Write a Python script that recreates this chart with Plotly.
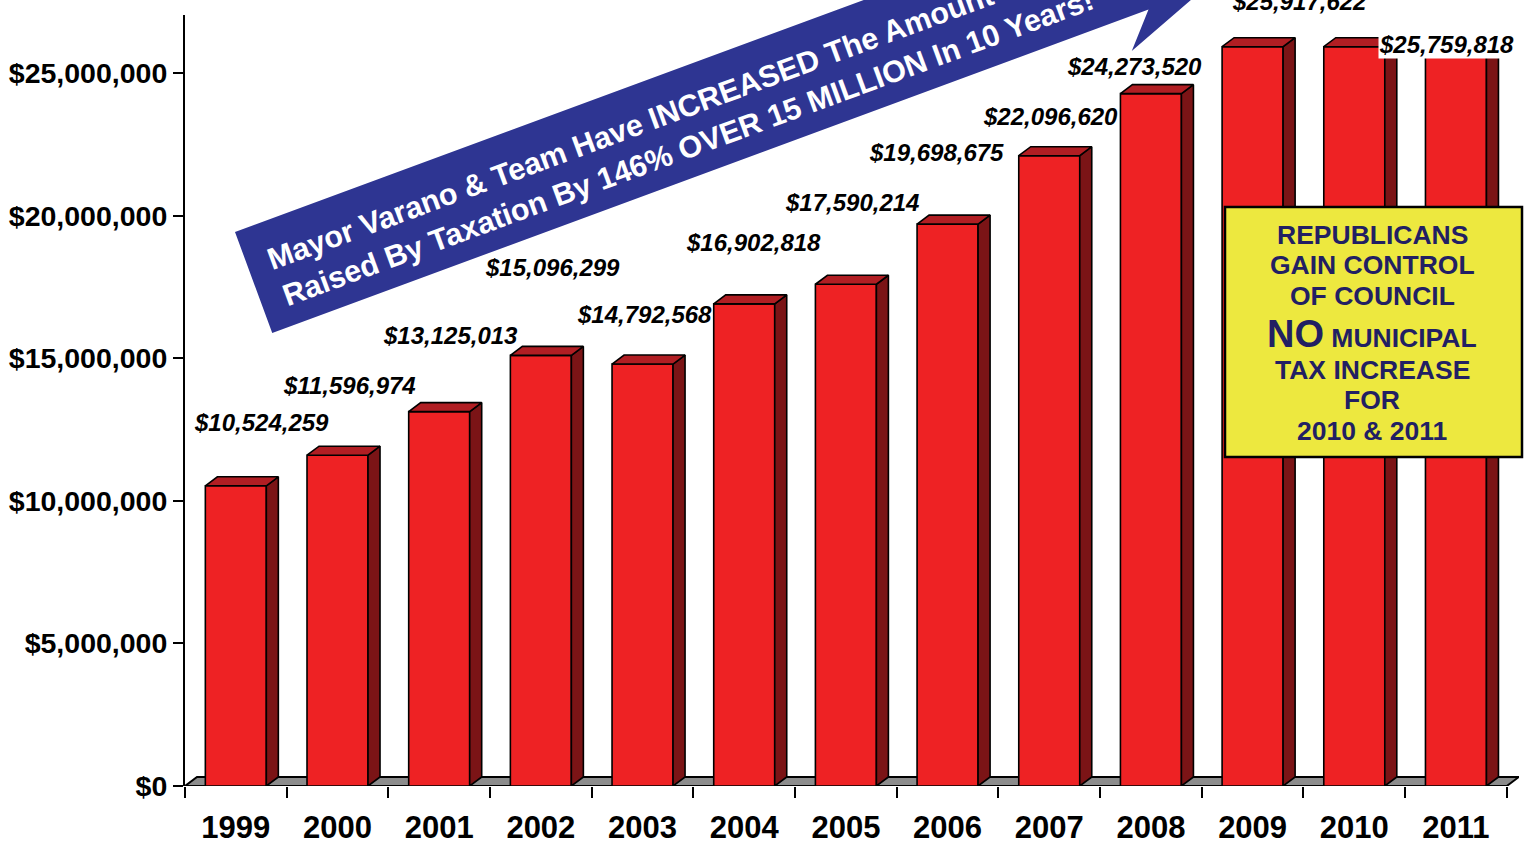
import math
import plotly.graph_objects as go

# ---------------- data ----------------
years = ["1999", "2000", "2001", "2002", "2003", "2004", "2005",
         "2006", "2007", "2008", "2009", "2010", "2011"]
tax_raised = [10524259, 11596974, 13125013, 15096299, 14792568, 16902818,
              17590214, 19698675, 22096620, 24273520, 25917622, 25917622,
              25759818]
y_tick_values = [0, 5000000, 10000000, 15000000, 20000000, 25000000]
y_tick_labels = ["$0", "$5,000,000", "$10,000,000", "$15,000,000",
                 "$20,000,000", "$25,000,000"]
banner_lines = ["Mayor Varano & Team Have INCREASED The Amount Of Money",
                "Raised By Taxation By 146% OVER 15 MILLION In 10 Years!"]
box_lines = ["REPUBLICANS", "GAIN CONTROL", "OF COUNCIL",
             "<span style='font-size:38px'>NO</span> MUNICIPAL",
             "TAX INCREASE", "FOR", "2010 & 2011"]

# ---------------- layout geometry / style ----------------
W, H = 1530, 844
ML, MR, MT, MB = 185, 11, 15, 58
PW, PH = W - ML - MR, H - MT - MB
X_RANGE = [-0.5, 12.62]
PX_PER_X = PW / (X_RANGE[1] - X_RANGE[0])
Y_MAX = 27.03e6
PX_PER_Y = PH / Y_MAX

FONT = "Liberation Sans, Arial, sans-serif"
RED, SIDE, TOP = "#ee2224", "#7b1416", "#b11e23"
FLOOR = "#8c8c8c"
NAVY = "#2e3592"
BOX_TXT = "#221f63"
BAR_W = 0.6
DX = 12 / PX_PER_X          # depth in x-data units
DY = 9 / PX_PER_Y           # depth in y-data units

# label nudges in pixels (x, y); None = label hidden in the original
label_nudge_px = [(26, 63), (12, 70), (11, 76), (12, 88), (2, 50), (9, 61),
                  (6, 82), (-11, 72), (1, 39), (-16, 27), (47, 45), None,
                  (-9, 7)]


def paper(px, py):
    return (px - ML) / PW, (H - MB - py) / PH


fig = go.Figure()

# front faces
xs = list(range(len(years)))
fig.add_trace(go.Bar(x=xs, y=tax_raised, width=BAR_W,
                     marker=dict(color=RED, line=dict(color="black", width=1.6)),
                     hoverinfo="skip"))

# side and top faces
sx, sy, tx, ty = [], [], [], []
for i, v in zip(xs, tax_raised):
    a, b = i - BAR_W / 2, i + BAR_W / 2
    sx += [b, b + DX, b + DX, b, b, None]
    sy += [0, DY, v + DY, v, 0, None]
    tx += [a, b, b + DX, a + DX, a, None]
    ty += [v, v, v + DY, v + DY, v, None]
fig.add_trace(go.Scatter(x=sx, y=sy, mode="lines", fill="toself",
                         fillcolor=SIDE, line=dict(color="black", width=1.6),
                         hoverinfo="skip"))
fig.add_trace(go.Scatter(x=tx, y=ty, mode="lines", fill="toself",
                         fillcolor=TOP, line=dict(color="black", width=1.6),
                         hoverinfo="skip"))

shapes = []
# floor
shapes.append(dict(type="path", xref="x", yref="y", layer="below",
                   path=f"M -0.5,0 L 12.5,0 L {12.5 + DX},{DY} L {-0.5 + DX},{DY} Z",
                   fillcolor=FLOOR, line=dict(color="black", width=2)))

# banner arrow
theta = math.atan(0.369)
d = (math.cos(theta), -math.sin(theta))
nv = (math.sin(theta), math.cos(theta))
A = (235, 232)


def tn(t, n):
    return A[0] + t * d[0] + n * nv[0], A[1] + t * d[1] + n * nv[1]


arrow_tn = [(0, 0), (934, 0), (904, -33), (1136, 53.8), (904, 140.6),
            (934, 107.6), (0, 107.6)]
pts = [paper(*tn(t, n)) for t, n in arrow_tn]
path = "M " + " L ".join(f"{x:.5f},{y:.5f}" for x, y in pts) + " Z"
shapes.append(dict(type="path", xref="paper", yref="paper", path=path,
                   fillcolor=NAVY, line=dict(width=0), layer="above"))

# yellow box
bx0, by0 = paper(1225, 207)
bx1, by1 = paper(1522, 457)
shapes.append(dict(type="rect", xref="paper", yref="paper",
                   x0=bx0, x1=bx1, y0=by1, y1=by0,
                   fillcolor="#ede83f", line=dict(color="black", width=2.5),
                   layer="above"))

annotations = []
# value labels
for i, v in enumerate(tax_raised):
    nudge = label_nudge_px[i]
    if nudge is None:
        continue
    ann = dict(x=i, y=v, xref="x", yref="y", showarrow=False,
               text=f"<b><i>${v:,}</i></b>", xshift=nudge[0], yshift=nudge[1],
               font=dict(family=FONT, size=24, color="black"),
               xanchor="center", yanchor="middle")
    if i == len(tax_raised) - 1:
        ann.update(bgcolor="white", borderpad=0)
    annotations.append(ann)

# banner text
for line, (t, n) in zip(banner_lines, [(481, 38.0), (454, 77.0)]):
    px, py = tn(t, n)
    x, y = paper(px, py)
    annotations.append(dict(x=x, y=y, xref="paper", yref="paper",
                            showarrow=False, text=f"<b>{line}</b>",
                            textangle=-math.degrees(theta),
                            font=dict(family=FONT, size=30.5, color="white"),
                            xanchor="center", yanchor="middle"))

# box text
for line, py in zip(box_lines, [235, 265, 296, 334, 370, 400, 431]):
    x, y = paper(1372, py)
    annotations.append(dict(x=x, y=y, xref="paper", yref="paper",
                            showarrow=False, text=f"<b>{line}</b>",
                            font=dict(family=FONT, size=26.5, color=BOX_TXT),
                            xanchor="center", yanchor="middle"))

fig.update_layout(
    width=W, height=H, autosize=False,
    margin=dict(l=ML, r=MR, t=MT, b=MB, pad=0, autoexpand=False),
    paper_bgcolor="white", plot_bgcolor="white",
    showlegend=False, shapes=shapes, annotations=annotations,
    xaxis=dict(range=X_RANGE, tickmode="array", tickvals=xs, ticktext=years,
               ticks="", showline=False, showgrid=False, zeroline=False,
               automargin=False,
               tickfont=dict(family=FONT, size=31, color="black", weight="bold"),
               ticklabelstandoff=20,
               minor=dict(tickmode="array",
                          tickvals=[k - 0.5 for k in range(len(years) + 1)],
                          ticks="outside", ticklen=11, tickwidth=2,
                          tickcolor="black", showgrid=False)),
    yaxis=dict(range=[0, Y_MAX], tickmode="array", tickvals=y_tick_values,
               ticktext=y_tick_labels, ticks="outside", ticklen=10,
               tickwidth=2, tickcolor="black", showline=True, linewidth=2,
               linecolor="black", showgrid=False, zeroline=False,
               automargin=False,
               tickfont=dict(family=FONT, size=28.5, color="black", weight="bold"),
               ticklabelstandoff=0),
)

fig.write_html("out.html", config={"displayModeBar": False},
               post_script="document.body.style.margin='0';document.body.style.overflow='hidden';")
